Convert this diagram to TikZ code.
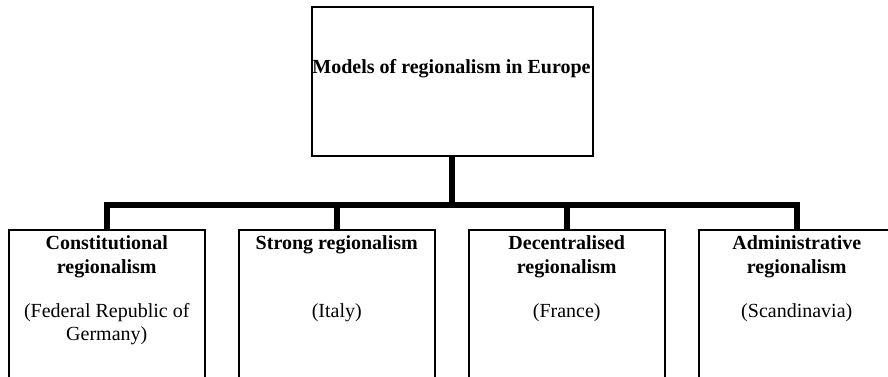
\documentclass[tikz,border=0pt]{standalone}
\usepackage{fontspec}
\setmainfont{Liberation Serif}
\begin{document}
\begin{tikzpicture}[x=1pt,y=-1pt,
  topbox/.style={draw,line width=2pt,inner sep=0pt,minimum width=281pt,minimum height=149pt,anchor=north west},
  subbox/.style={draw,line width=1.5pt,inner sep=0pt,minimum width=196pt,minimum height=160pt,anchor=north west},
  head/.style={font=\fontsize{20}{24}\selectfont\bfseries,align=center,inner sep=0pt,anchor=north},
  sub/.style={font=\fontsize{20}{23}\selectfont,align=center,inner sep=0pt,anchor=north},
  conn/.style={line width=6.5pt,line join=miter,line cap=butt}]
\useasboundingbox (0,0) rectangle (888,377);
\clip (0,0) rectangle (888,377);
\node[topbox] (top) at (311,6) {};
\node[font=\fontsize{20}{24}\selectfont\bfseries,inner sep=0pt,anchor=base] (toptxt) at (451.5,73.5) {Models of regionalism in Europe};
\node[subbox] (b1) at (8,229) {};
\node[subbox] (b2) at (238,229) {};
\node[subbox] (b3) at (468,229) {};
\node[subbox] (b4) at (698,229) {};
\node[head] (h1) at ([yshift=-6pt]b1.north) {Constitutional\\regionalism};
\node[head] (h2) at ([yshift=-6pt]b2.north) {Strong regionalism};
\node[head] (h3) at ([yshift=-6pt]b3.north) {Decentralised\\regionalism};
\node[head] (h4) at ([yshift=-6pt]b4.north) {Administrative\\regionalism};
\node[sub] (s1) at ([yshift=-74pt]b1.north) {(Federal Republic of\\Germany)};
\node[sub] (s2) at ([yshift=-74pt]b2.north) {(Italy)};
\node[sub] (s3) at ([yshift=-74pt]b3.north) {(France)};
\node[sub] (s4) at ([yshift=-74pt]b4.north) {(Scandinavia)};
\coordinate (hub) at (452,205);
\draw[conn] (top.south -| hub) -- (hub);
\draw[conn] (b1.north) -- (b1.north |- hub) -- (b4.north |- hub) -- (b4.north);
\draw[conn] (b2.north) -- (b2.north |- hub);
\draw[conn] (b3.north) -- (b3.north |- hub);
\end{tikzpicture}
\end{document}
